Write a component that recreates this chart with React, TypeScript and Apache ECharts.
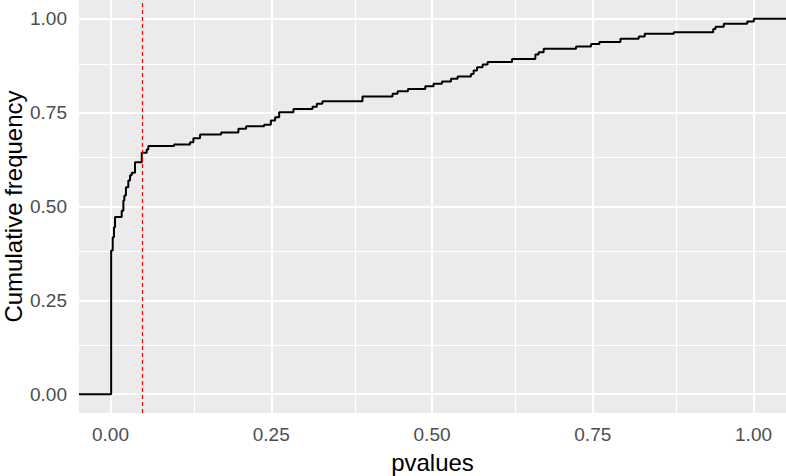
import React, { useEffect, useRef } from "react";
import * as echarts from "echarts";

// Jump locations of the empirical CDF (p-values) and cumulative frequency after each jump
const pvalues = [
  0.001, 0.0034, 0.0054, 0.007, 0.0174, 0.02, 0.0215, 0.024, 0.0277, 0.0304,
  0.033, 0.0381, 0.0486, 0.0563, 0.0588, 0.0988, 0.1237, 0.1289, 0.1393, 0.172,
  0.1989, 0.2109, 0.2389, 0.2493, 0.256, 0.2623, 0.2845, 0.3141, 0.3209, 0.3296,
  0.3919, 0.4386, 0.4464, 0.4626, 0.4895, 0.5024, 0.5155, 0.5295, 0.5398, 0.5606,
  0.5647, 0.57, 0.5787, 0.5865, 0.6244, 0.6607, 0.6658, 0.6736, 0.724, 0.7474,
  0.7603, 0.793, 0.8215, 0.8308, 0.876, 0.9373, 0.9409, 0.9538, 0.9902, 1.0005,
];
const cumFreq = [
  0.383, 0.418, 0.445, 0.472, 0.489, 0.516, 0.529, 0.551, 0.569, 0.583,
  0.59, 0.618, 0.643, 0.652, 0.661, 0.665, 0.671, 0.682, 0.692, 0.697,
  0.707, 0.714, 0.718, 0.729, 0.738, 0.751, 0.76, 0.766, 0.774, 0.78,
  0.793, 0.8, 0.807, 0.813, 0.82, 0.827, 0.833, 0.84, 0.846, 0.853,
  0.862, 0.871, 0.878, 0.885, 0.893, 0.905, 0.911, 0.92, 0.926, 0.933,
  0.938, 0.947, 0.953, 0.96, 0.964, 0.973, 0.979, 0.987, 0.993, 1.0,
];

const xLimits = [-0.049, 1.0505];
const yLimits = [-0.05, 1.05];
const xTicks = [0, 0.25, 0.5, 0.75, 1];
const yTicks = [0, 0.25, 0.5, 0.75, 1];
const cutoff = 0.05;

const FONT = "'Liberation Sans', Arial, Helvetica, sans-serif";

function midpoints(arr: number[]) {
  const out: number[] = [];
  for (let i = 0; i < arr.length - 1; i++) out.push((arr[i] + arr[i + 1]) / 2);
  return out;
}

export default function App() {
  const ref = useRef<HTMLDivElement>(null);
  useEffect(() => {
    if (!ref.current) return;
    const chart = echarts.init(ref.current, null, { renderer: "svg" });

    // ECDF padded with -Inf / +Inf ends (as ggplot's stat_ecdf does)
    const pts: number[][] = [[xLimits[0], 0]];
    pvalues.forEach((p, i) => pts.push([p, cumFreq[i]]));
    pts.push([xLimits[1], cumFreq[cumFreq.length - 1]]);

    const gridLines: any[] = [];
    xTicks.forEach((v) => gridLines.push({ xAxis: v, lineStyle: { color: "#FFFFFF", width: 2, type: "solid" } }));
    midpoints(xTicks).forEach((v) => gridLines.push({ xAxis: v, lineStyle: { color: "#FFFFFF", width: 1, type: "solid" } }));
    yTicks.forEach((v) => gridLines.push({ yAxis: v, lineStyle: { color: "#FFFFFF", width: 2, type: "solid" } }));
    midpoints(yTicks).forEach((v) => gridLines.push({ yAxis: v, lineStyle: { color: "#FFFFFF", width: 1, type: "solid" } }));

    const axisCommon = {
      type: "value",
      nameLocation: "middle",
      nameTextStyle: { color: "#000000", fontSize: 24, fontFamily: FONT },
      axisLine: { show: false },
      splitLine: { show: false },
    };

    chart.setOption({
      animation: false,
      backgroundColor: "#FFFFFF",
      grid: {
        left: 79,
        right: 0,
        top: 0,
        bottom: 63,
        show: true,
        backgroundColor: "#EBEBEB",
        borderWidth: 0,
        containLabel: false,
        outerBoundsMode: "none",
      },
      xAxis: {
        ...axisCommon,
        min: xLimits[0],
        max: xLimits[1],
        name: "pvalues",
        nameGap: 37,
        axisTick: { show: true, customValues: xTicks, length: 6, lineStyle: { color: "#333333", width: 2 } },
        axisLabel: {
          customValues: xTicks,
          formatter: (v: number) => v.toFixed(2),
          margin: 12,
          color: "#4D4D4D",
          fontSize: 19,
          fontFamily: FONT,
        },
      },
      yAxis: {
        ...axisCommon,
        min: yLimits[0],
        max: yLimits[1],
        name: "Cumulative frequency",
        nameGap: 54,
        nameMoveOverlap: false,
        axisTick: { show: true, customValues: yTicks, length: 6, lineStyle: { color: "#333333", width: 2 } },
        axisLabel: {
          customValues: yTicks,
          formatter: (v: number) => v.toFixed(2),
          margin: 12,
          color: "#4D4D4D",
          fontSize: 19,
          fontFamily: FONT,
        },
      },
      series: [
        {
          type: "line",
          data: [],
          z: 1,
          silent: true,
          markLine: {
            z: 1,
            silent: true,
            symbol: ["none", "none"],
            label: { show: false },
            emphasis: { disabled: true },
            data: gridLines,
          },
        },
        {
          type: "line",
          step: "end",
          data: pts,
          symbol: "none",
          showSymbol: false,
          lineStyle: { color: "#000000", width: 2 },
          z: 3,
          silent: true,
        },
        {
          type: "line",
          data: [],
          z: 6,
          silent: true,
          markLine: {
            z: 6,
            silent: true,
            symbol: ["none", "none"],
            label: { show: false },
            emphasis: { disabled: true },
            lineStyle: { color: "#FF0000", width: 1.2, type: [4, 3] },
            data: [{ xAxis: cutoff }],
          },
        },
      ],
    });
    return () => chart.dispose();
  }, []);
  return (
    <div
      ref={ref}
      style={{ position: "absolute", left: 0, top: 0, width: 786, height: 476, background: "#FFFFFF" }}
    />
  );
}
